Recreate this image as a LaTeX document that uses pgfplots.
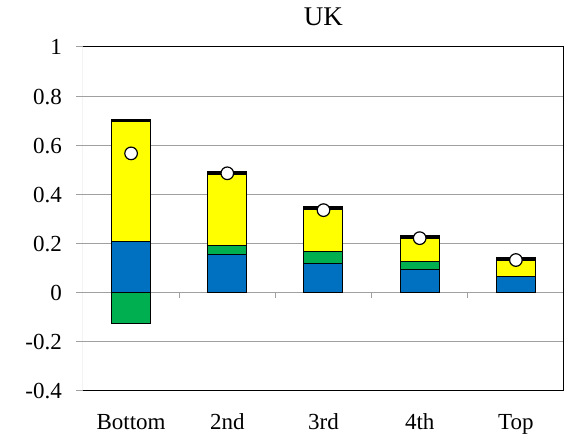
\documentclass[border=0pt]{standalone}
\usepackage{pgfplots}
\pgfplotsset{compat=1.18}
\usepackage{fontspec}
\setmainfont{Liberation Serif}
\definecolor{xblue}{HTML}{0070C0}
\definecolor{xgreen}{HTML}{00B050}
\definecolor{xyellow}{HTML}{FFFF00}
\definecolor{xgrid}{HTML}{A0A0A0}
\begin{document}
\begin{tikzpicture}
\path[use as bounding box] (-83pt,-44pt) rectangle (488pt,391pt);
\pgfplotsset{base/.style={scale only axis, width=481pt, height=344pt, at={(0,0)}, anchor=south west,
  xmin=-0.5, xmax=4.5, ymin=-0.4, ymax=1}}
\begin{axis}[base, ybar stacked, bar width=39pt,
  axis line style={draw=none},
  ytick={-0.4,-0.2,0,0.2,0.4,0.6,0.8,1},
  yticklabels={-0.4,-0.2,0,0.2,0.4,0.6,0.8,1},
  ymajorgrids, grid style={xgrid, line width=1pt},
  xtick={0,1,2,3,4}, xticklabels={Bottom,2nd,3rd,4th,Top},
  x tick style={draw=none}, y tick style={xgrid, line width=1pt},
  tick align=outside, ytick pos=left, xtick pos=bottom, major tick length=7pt,
  tick label style={font=\fontsize{23}{26}\selectfont, inner sep=0pt},
  xticklabel style={anchor=base, yshift=-32pt},
  yticklabel style={anchor=base east, xshift=-14pt, yshift=-8pt},
  title={UK}, title style={font=\fontsize{27}{30}\selectfont, inner sep=0pt, at={(0.5,1)}, anchor=base, yshift=15pt},
  every axis plot/.append style={draw=black, line width=1pt}]
\addplot[fill=xblue] coordinates {(0,0.207) (1,0.155) (2,0.118) (3,0.095) (4,0.064)};
\addplot[fill=xgreen] coordinates {(0,0) (1,0.038) (2,0.049) (3,0.030) (4,0.003)};
\addplot[fill=xyellow] coordinates {(0,0.488) (1,0.290) (2,0.173) (3,0.097) (4,0.065)};
\addplot[fill=black] coordinates {(0,0.010) (1,0.011) (2,0.010) (3,0.012) (4,0.011)};
\end{axis}
\begin{axis}[base, hide axis, ybar, bar width=39pt]
\addplot[fill=xgreen, draw=black, line width=1pt] coordinates {(0,-0.125)};
\draw[xgrid, line width=1pt] (axis cs:-0.5,-0.4) -- (axis cs:-0.5,1);
\draw[xgrid, line width=1pt] (axis cs:0.5,0) -- ++(0pt,-5pt);
\draw[xgrid, line width=1pt] (axis cs:1.5,0) -- ++(0pt,-5pt);
\draw[xgrid, line width=1pt] (axis cs:2.5,0) -- ++(0pt,-5pt);
\draw[xgrid, line width=1pt] (axis cs:3.5,0) -- ++(0pt,-5pt);
\draw[black, line width=1pt] (axis cs:-0.5,-0.4) -- (axis cs:4.5,-0.4) -- (axis cs:4.5,1) -- (axis cs:-0.5,1);
\addplot[only marks, mark=*, mark size=6.3pt, mark options={fill=white, draw=black, line width=1.2pt}]
  coordinates {(0,0.567) (1,0.486) (2,0.336) (3,0.222) (4,0.133)};
\end{axis}
\end{tikzpicture}
\end{document}
